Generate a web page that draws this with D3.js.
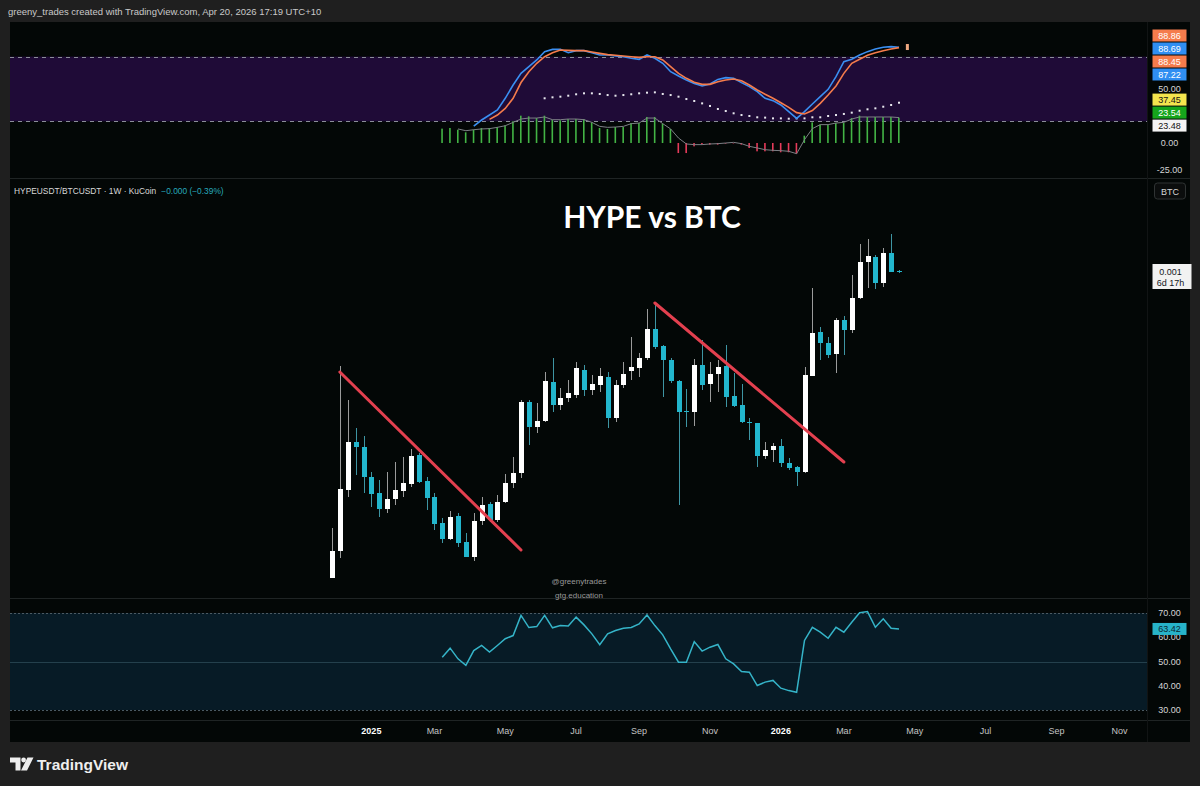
<!DOCTYPE html>
<html>
<head>
<meta charset="utf-8">
<script src="https://cdn.jsdelivr.net/npm/d3@7/dist/d3.min.js"></script>
<style>
  body { margin: 0; background: #1e1e1e; }
  text { font-family: "Liberation Sans", Arial, sans-serif; }
</style>
</head>
<body>
<div id="chart"></div>
<script>
// weekly HYPEUSDT/BTCUSDT candles (KuCoin), prices in satoshis
var firstWeek = "2024-11-25";
var opens = [4400, 9800, 22000, 31600, 30600, 24600, 21400, 18200, 20200, 21800,
  23200, 29000, 23800, 20600, 15400, 12200, 16800, 11600, 8600, 15800,
  19200, 16000, 19600, 23400, 25400, 39600, 34600, 35800, 43600, 39000,
  40400, 41000, 46000, 42000, 43000, 44600, 36400, 43000, 45800, 46400,
  48400, 54200, 50800, 48000, 43800, 37800, 37600, 47000, 43200, 45200,
  46800, 40800, 39000, 35600, 35400, 28800, 30000, 30800, 27400, 26600,
  25600, 44800, 53600, 51400, 49200, 56000, 54000, 60400, 67600, 68600,
  63400, 69400, 65800];
var closes = [9800, 22200, 31600, 30600, 24600, 21200, 18200, 20200, 22000, 23400,
  28800, 23600, 20400, 15200, 12200, 16600, 11400, 8600, 15800, 19000,
  16000, 19600, 23400, 25400, 39600, 34600, 35800, 43800, 39000, 40400,
  41400, 46400, 42000, 43200, 44800, 36400, 43000, 45200, 46600, 48400,
  54200, 50600, 48000, 43800, 37600, 37600, 47000, 43000, 45200, 46600,
  40600, 38800, 35600, 35400, 28800, 30000, 30800, 27400, 26400, 25600,
  45000, 53400, 51400, 49000, 56000, 54000, 60400, 67600, 68800, 63400,
  69400, 65600, 65600];
var highs = [14400, 46800, 40000, 34400, 32800, 25600, 24000, 25600, 27600, 28600,
  30200, 29400, 24600, 21400, 16400, 17800, 17400, 13400, 17400, 20600,
  19600, 21000, 25200, 28600, 40000, 40000, 39400, 45600, 48400, 42400,
  44000, 47600, 47000, 45000, 46400, 45600, 44000, 47600, 52600, 49400,
  58200, 59400, 51000, 48400, 44000, 42200, 48200, 52000, 47600, 48000,
  51000, 45400, 43200, 36400, 35400, 31600, 31400, 32200, 28400, 26800,
  46600, 62400, 54600, 52600, 56400, 56800, 65000, 71200, 72200, 69000,
  70400, 73200, 66000];
var lows = [4400, 8400, 20600, 25000, 21400, 18600, 16600, 17400, 19000, 20600,
  22600, 23400, 18000, 14000, 11400, 12000, 10600, 8600, 7800, 15000,
  15600, 15600, 19400, 22400, 24400, 31000, 33400, 35600, 37600, 38000,
  39600, 40400, 40800, 41000, 41600, 34400, 35600, 42400, 44000, 44600,
  48000, 50200, 40600, 43400, 19000, 34600, 34800, 42000, 39600, 41600,
  38600, 38600, 35400, 32000, 26600, 28200, 27600, 26600, 26000, 22800,
  25400, 44800, 48000, 48400, 45400, 49000, 53400, 60200, 62400, 62200,
  62600, 65600, 65400];

// trend lines: [bar index, price] -> [bar index, price]
var trendLines = [
  [[1, 45600], [24, 10000]],
  [[41, 59400], [65, 27600]]
];

// RSI(14), starts at bar 14
var rsiStart = 14;
var rsiValues = [51.8, 55.5, 51.1, 48.4, 54.5, 56.6, 53.9, 56.6, 59.4, 60.7,
  69.0, 64.0, 64.4, 69.0, 63.9, 64.8, 64.6, 68.3, 65.1, 61.4,
  56.9, 61.4, 62.8, 63.7, 64.0, 65.5, 69.2, 64.8, 61.0, 55.2,
  49.7, 49.7, 58.2, 54.3, 55.9, 57.0, 51.1, 49.0, 45.9, 45.6,
  40.1, 41.5, 42.2, 39.0, 38.0, 37.3, 58.7, 64.1, 62.1, 59.6,
  64.1, 62.1, 66.2, 70.1, 70.6, 64.1, 67.6, 63.7, 63.4];

// stochastic RSI %K (from bar 18) and %D (from bar 20)
var kStart = 18;
var kValues = [15.7, 21.3, 25.9, 30.6, 41.4, 53.7, 64.5, 70.7, 76.9, 84.6,
  86.7, 86.7, 83.6, 85.5, 85.5, 83.6, 81.5, 81.5, 80.6, 79.9,
  78.4, 77.5, 81.5, 78.4, 73.8, 66.0, 62.0, 58.3, 55.2, 52.8,
  54.6, 58.9, 60.5, 59.9, 55.9, 52.2, 47.5, 41.4, 39.2, 35.2,
  29.0, 22.8, 29.0, 36.1, 42.9, 49.7, 61.4, 75.3, 77.5, 81.5,
  84.6, 87.0, 88.6, 89.2, 88.7];
var dStart = 20;
var dValues = [21.9, 25.9, 32.0, 41.4, 56.0, 66.0, 73.8, 79.9, 83.6, 86.1,
  85.8, 85.5, 85.5, 84.3, 83.0, 81.8, 81.2, 80.6, 79.9, 79.3,
  79.9, 79.9, 76.9, 70.7, 64.5, 59.9, 56.2, 54.3, 54.3, 56.8,
  58.3, 59.3, 57.7, 53.7, 49.1, 45.1, 41.4, 37.3, 33.0, 28.1,
  26.9, 30.0, 36.7, 44.4, 52.8, 64.5, 73.8, 77.5, 81.2, 83.6,
  85.5, 87.0, 88.3];

// slow line plotted as dots (from bar 27)
var dotStart = 27;
var dotValues = [41.4, 42.3, 42.9, 43.8, 45.1, 46.0, 46.0, 45.4, 44.4, 43.8,
  44.4, 45.1, 46.0, 46.6, 46.9, 45.4, 44.4, 42.9, 40.7, 38.9,
  36.7, 34.3, 31.5, 29.6, 27.5, 25.9, 25.0, 23.8, 23.5, 22.8,
  22.8, 22.5, 22.8, 22.8, 23.8, 23.8, 25.0, 25.9, 26.9, 28.1,
  29.9, 31.2, 32.1, 33.6, 35.2, 37.3];

// histogram (from bar 14) and its line (from bar 16)
var histStart = 14;
var histValues = [13.3, 13.9, 12.3, 9.9, 12.3, 13.9, 13.9, 14.8, 16.4, 20.1,
  25.3, 24.7, 23.1, 25.3, 21.6, 21.0, 22.2, 22.2, 22.2, 19.1,
  13.9, 13.0, 14.8, 14.8, 18.5, 18.5, 24.1, 24.1, 17.9, 13.0,
  -9.3, -9.3, -3.1, -1.5, -1.5, -1.5, -0.6, -0.4, -1.5, -4.6,
  -7.7, -7.7, -7.7, -8.6, -8.6, -9.9, 6.8, 19.1, 17.0, 17.0,
  18.5, 18.5, 23.1, 25.3, 24.1, 24.1, 24.1, 24.1, 23.5];
var histLineStart = 16;
var histLineValues = [13.0, 11.4, 12.3, 13.0, 13.3, 14.5, 16.0, 19.1,
  22.2, 23.1, 23.1, 24.1, 21.6, 21.6, 22.2, 22.2, 21.6, 19.1,
  15.4, 14.5, 14.8, 15.4, 17.9, 18.5, 23.1, 23.1, 17.9, 13.0,
  4.6, -0.9, -1.5, -1.5, -0.9, -0.6, 0.0, 0.6, -0.6, -3.1,
  -4.6, -6.2, -6.8, -7.1, -7.7, -9.9, 3.1, 13.3, 17.0, 17.0,
  18.5, 19.1, 22.2, 24.1, 24.1, 24.1, 24.1, 24.1, 23.5];

// time axis months and price-scale values
var monthTicks = ["2025-01-01", "2025-03-01", "2025-05-01", "2025-07-01", "2025-09-01", "2025-11-01",
  "2026-01-01", "2026-03-01", "2026-05-01", "2026-07-01", "2026-09-01", "2026-11-01"];
var stochTicks = [50, 0, -25];
var stochTags = [
  {v: 88.86, fill: "#f57c4c", text: "#ffffff"},
  {v: 88.69, fill: "#2f8ef2", text: "#ffffff"},
  {v: 88.45, fill: "#f57c4c", text: "#ffffff"},
  {v: 87.22, fill: "#2f8ef2", text: "#ffffff"},
  {v: 37.45, fill: "#f3e54e", text: "#131313"},
  {v: 23.54, fill: "#16a51c", text: "#ffffff"},
  {v: 23.48, fill: "#f4f4f4", text: "#131313"}
];
var rsiTicks = [70, 60, 50, 40, 30];

var W = 1200, H = 786;
var plotLeft = 10, plotRight = 1147, frameRight = 1190;
var DAY = 864e5;

var svg = d3.select("#chart").append("svg")
  .attr("width", W).attr("height", H);

svg.append("rect").attr("width", W).attr("height", H).attr("fill", "#1f1f1f");
svg.append("rect")
  .attr("x", plotLeft).attr("y", 22)
  .attr("width", frameRight - plotLeft).attr("height", 720)
  .attr("fill", "#030706");

var t0 = new Date(firstWeek + "T00:00:00Z");
var candles = opens.map(function (o, i) {
  return {i: i, date: new Date(+t0 + i * 7 * DAY), o: o, h: highs[i], l: lows[i], c: closes[i]};
});

var x = d3.scaleTime()
  .domain([candles[0].date, candles[candles.length - 1].date])
  .range([332, 899]);
function xi(i) { return x(new Date(+t0 + i * 7 * DAY)); }

var yPrice = d3.scaleLinear().domain([0, 120000]).range([600, 0]);
var yStoch = d3.scaleLinear().domain([-25, 100]).range([170, 35]);
var yRsi = d3.scaleLinear().domain([30, 70]).range([710, 613]);

// pane separators
[178.5, 598.5, 720.5].forEach(function (yy) {
  svg.append("line")
    .attr("x1", plotLeft).attr("x2", frameRight)
    .attr("y1", yy).attr("y2", yy)
    .attr("stroke", "#1f2424").attr("stroke-width", 1);
});
svg.append("line")
  .attr("x1", plotRight + 0.5).attr("x2", plotRight + 0.5)
  .attr("y1", 22).attr("y2", 742)
  .attr("stroke", "#111414");

// header
svg.append("text")
  .attr("x", 8).attr("y", 15)
  .style("font-size", "9.5px")
  .attr("fill", "#c9c9c9")
  .text("greeny_trades created with TradingView.com, Apr 20, 2026 17:19 UTC+10");

// ---------- stochastic pane ----------
var stoch = svg.append("g");
stoch.append("rect")
  .attr("x", plotLeft).attr("y", yStoch(80))
  .attr("width", plotRight - plotLeft).attr("height", yStoch(20) - yStoch(80))
  .attr("fill", "#1f0b37");
[80, 20].forEach(function (v) {
  stoch.append("line")
    .attr("x1", plotLeft).attr("x2", plotRight)
    .attr("y1", Math.round(yStoch(v)) + 0.5).attr("y2", Math.round(yStoch(v)) + 0.5)
    .attr("stroke", "#8a8d98").attr("stroke-dasharray", "4,4").attr("stroke-width", 1);
});

stoch.selectAll(".hbar")
  .data(histValues)
  .enter().append("rect")
  .attr("x", function (d, k) { return xi(histStart + k) - 1; })
  .attr("y", function (d) { return Math.min(yStoch(d), yStoch(0)); })
  .attr("width", 1.6)
  .attr("height", function (d) { return Math.abs(yStoch(d) - yStoch(0)); })
  .attr("fill", function (d) { return d >= 0 ? "#43b445" : "#e53b5a"; });

var stochLine = d3.line()
  .x(function (d) { return xi(d.i); })
  .y(function (d) { return yStoch(d.v); });
function seq(start, vals) {
  return vals.map(function (v, k) { return {i: start + k, v: v}; });
}

stoch.append("path")
  .datum(seq(histLineStart, histLineValues))
  .attr("d", stochLine)
  .attr("fill", "none").attr("stroke", "#7d7f85").attr("stroke-width", 1);

stoch.selectAll(".dot")
  .data(seq(dotStart, dotValues))
  .enter().append("rect")
  .attr("x", function (d) { return xi(d.i) - 1; })
  .attr("y", function (d) { return yStoch(d.v) - 1; })
  .attr("width", 2).attr("height", 2)
  .attr("fill", "#e8e8ee");

stoch.append("path")
  .datum(seq(kStart, kValues))
  .attr("d", stochLine)
  .attr("fill", "none").attr("stroke", "#3a8ff2").attr("stroke-width", 1.6);
stoch.append("path")
  .datum(seq(dStart, dValues))
  .attr("d", stochLine)
  .attr("fill", "none").attr("stroke", "#f57c4c").attr("stroke-width", 1.6);

stoch.append("rect")
  .attr("x", xi(candles.length) - 1).attr("y", yStoch(88.86) - 3)
  .attr("width", 3).attr("height", 6)
  .attr("fill", "#f0a880");

// ---------- main pane ----------
var main = svg.append("g");
main.append("text")
  .attr("x", 14).attr("y", 194)
  .style("font-size", "8.4px")
  .attr("fill", "#d8d8d8")
  .text("HYPEUSDT/BTCUSDT · 1W · KuCoin")
  .append("tspan")
  .attr("dx", 5)
  .attr("fill", "#27a9bb")
  .text("\u22120.000 (\u22120.39%)");

main.append("text")
  .attr("x", 652).attr("y", 228)
  .attr("text-anchor", "middle")
  .style("font-family", "Lato, 'Liberation Sans', sans-serif")
  .style("font-size", "30px").style("font-weight", "bold")
  .attr("fill", "#ffffff")
  .text("HYPE vs BTC");

main.selectAll(".wm")
  .data(["@greenytrades", "gtg.education"])
  .enter().append("text")
  .attr("x", 579)
  .attr("y", function (d, k) { return 584 + k * 14; })
  .attr("text-anchor", "middle")
  .style("font-size", "8px")
  .attr("fill", "#9a9a9a")
  .text(function (d) { return d; });

main.selectAll(".wick")
  .data(candles)
  .enter().append("line")
  .attr("x1", function (d) { return Math.round(x(d.date)) + 0.5; })
  .attr("x2", function (d) { return Math.round(x(d.date)) + 0.5; })
  .attr("y1", function (d) { return yPrice(d.h); })
  .attr("y2", function (d) { return yPrice(d.l); })
  .attr("stroke", function (d) { return d.c >= d.o ? "#9b9b9b" : "#3e95a3"; })
  .attr("stroke-width", 1);

main.selectAll(".body")
  .data(candles)
  .enter().append("rect")
  .attr("x", function (d) { return Math.round(x(d.date)) - 2; })
  .attr("y", function (d) { return yPrice(Math.max(d.o, d.c)); })
  .attr("width", 5)
  .attr("height", function (d) { return Math.max(1, Math.abs(yPrice(d.o) - yPrice(d.c))); })
  .attr("fill", function (d) { return d.c >= d.o ? "#ffffff" : "#22b6cd"; });

main.selectAll(".trend")
  .data(trendLines)
  .enter().append("line")
  .attr("x1", function (d) { return xi(d[0][0]); })
  .attr("y1", function (d) { return yPrice(d[0][1]); })
  .attr("x2", function (d) { return xi(d[1][0]); })
  .attr("y2", function (d) { return yPrice(d[1][1]); })
  .attr("stroke", "#e3404f").attr("stroke-width", 3)
  .attr("stroke-linecap", "round");

// ---------- RSI pane ----------
var rsi = svg.append("g");
rsi.append("rect")
  .attr("x", plotLeft).attr("y", yRsi(70))
  .attr("width", plotRight - plotLeft).attr("height", yRsi(30) - yRsi(70))
  .attr("fill", "#071b26");
[70, 30].forEach(function (v) {
  rsi.append("line")
    .attr("x1", plotLeft).attr("x2", plotRight)
    .attr("y1", Math.round(yRsi(v)) + 0.5).attr("y2", Math.round(yRsi(v)) + 0.5)
    .attr("stroke", "#4b5a63").attr("stroke-dasharray", "2,2");
});
rsi.append("line")
  .attr("x1", plotLeft).attr("x2", plotRight)
  .attr("y1", Math.round(yRsi(50)) + 0.5).attr("y2", Math.round(yRsi(50)) + 0.5)
  .attr("stroke", "#24404c");
rsi.append("path")
  .datum(seq(rsiStart, rsiValues))
  .attr("d", d3.line().x(function (d) { return xi(d.i); }).y(function (d) { return yRsi(d.v); }))
  .attr("fill", "none").attr("stroke", "#35b4c8").attr("stroke-width", 1.5);

// ---------- price scales ----------
var scaleX = (plotRight + frameRight) / 2 + 1;
function plainLabel(yy, txt) {
  svg.append("text")
    .attr("x", scaleX).attr("y", yy + 3)
    .attr("text-anchor", "middle")
    .style("font-size", "9px")
    .attr("fill", "#d6d6d6")
    .text(txt);
}
function tag(yy, txt, fill, color) {
  svg.append("rect")
    .attr("x", scaleX - 17).attr("y", yy - 6)
    .attr("width", 34).attr("height", 12)
    .attr("fill", fill);
  svg.append("text")
    .attr("x", scaleX).attr("y", yy + 3.2)
    .attr("text-anchor", "middle")
    .style("font-size", "9px")
    .attr("fill", color)
    .text(txt);
}
stochTicks.forEach(function (v) { plainLabel(yStoch(v), v.toFixed(2)); });

// stack overlapping tags like the price scale does
function stack(tags, yScale, h, top) {
  var items = tags.map(function (t) { return Object.assign({y: yScale(t.v)}, t); })
    .sort(function (a, b) { return a.y - b.y; });
  var groups = items.map(function (it) { return {items: [it], c: it.y}; });
  var merged = true;
  while (merged) {
    merged = false;
    for (var g = 0; g < groups.length - 1; g++) {
      var a = groups[g], b = groups[g + 1];
      if (a.c + a.items.length * h / 2 > b.c - b.items.length * h / 2) {
        var all = a.items.concat(b.items);
        groups.splice(g, 2, {items: all, c: d3.mean(all, function (d) { return d.y; })});
        merged = true;
        break;
      }
    }
  }
  groups.forEach(function (gr) {
    var s = Math.max(top, gr.c - gr.items.length * h / 2);
    gr.items.forEach(function (it, k) { it.ty = s + h * k + h / 2; });
  });
  return items;
}
stack(stochTags, yStoch, 13, 29).forEach(function (t) {
  tag(t.ty, t.v.toFixed(2), t.fill, t.text);
});

rsiTicks.forEach(function (v) { plainLabel(yRsi(v), v.toFixed(2)); });
tag(yRsi(63.42), "63.42", "#27b3c9", "#0b2a33");

// main pane tags
svg.append("rect")
  .attr("x", scaleX - 15).attr("y", 183)
  .attr("width", 31).attr("height", 16).attr("rx", 3)
  .attr("fill", "#0b0d0d").attr("stroke", "#2f3333");
svg.append("text")
  .attr("x", scaleX + 0.5).attr("y", 194.5)
  .attr("text-anchor", "middle")
  .style("font-size", "9px").attr("fill", "#d6d6d6")
  .text("BTC");

var last = candles[candles.length - 1];
var py = yPrice(last.c);
svg.append("rect")
  .attr("x", scaleX - 17).attr("y", py - 8)
  .attr("width", 39).attr("height", 25)
  .attr("fill", "#f2f2f2");
svg.append("text")
  .attr("x", scaleX + 1).attr("y", py + 3)
  .attr("text-anchor", "middle")
  .style("font-size", "9px").attr("fill", "#131722")
  .text((last.c / 1e8).toFixed(3));
svg.append("text")
  .attr("x", scaleX + 1).attr("y", py + 14)
  .attr("text-anchor", "middle")
  .style("font-size", "9px").attr("fill", "#131722")
  .text("6d 17h");

// ---------- time axis ----------
svg.selectAll(".month")
  .data(monthTicks)
  .enter().append("text")
  .attr("x", function (d) {
    var m = new Date(d + "T00:00:00Z");
    return x(d3.utcMonday.floor(new Date(+m - DAY)));
  })
  .attr("y", 734)
  .attr("text-anchor", "middle")
  .style("font-size", "9px")
  .style("font-weight", function (d) { return d.slice(5, 7) === "01" ? "bold" : "normal"; })
  .attr("fill", function (d) { return d.slice(5, 7) === "01" ? "#ffffff" : "#c4c4c4"; })
  .text(function (d) {
    var m = new Date(d + "T00:00:00Z");
    return m.getUTCMonth() === 0 ? d3.utcFormat("%Y")(m) : d3.utcFormat("%b")(m);
  });

// ---------- TradingView logo ----------
var logo = svg.append("g").attr("fill", "#eeeeee");
logo.append("path").attr("d", "M10,757.5 h10.5 v13 h-5 v-8 h-5.5 z");
logo.append("circle").attr("cx", 23.6).attr("cy", 760).attr("r", 2.4);
logo.append("path").attr("d", "M27.5,757.5 h6 l-6.5,13 h-6 z");
logo.append("text")
  .attr("x", 37).attr("y", 770)
  .style("font-size", "15.5px").style("font-weight", "600")
  .attr("fill", "#eeeeee")
  .text("TradingView");
</script>
</body>
</html>
